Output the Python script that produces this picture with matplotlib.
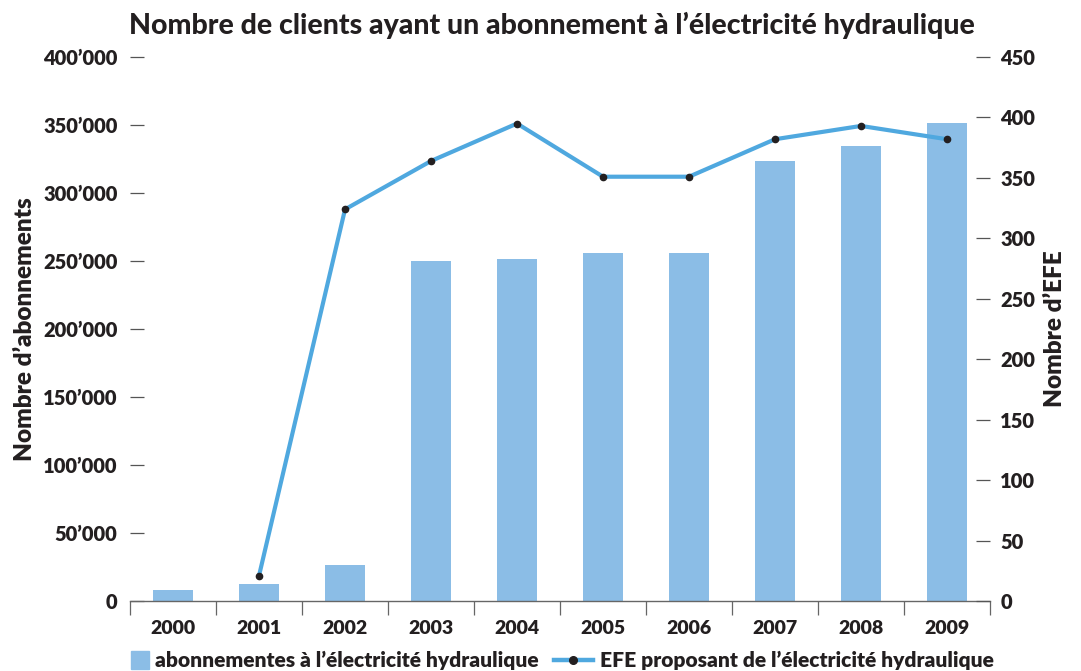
import numpy as np
import matplotlib
matplotlib.use('Agg')
import matplotlib.pyplot as plt
from matplotlib.ticker import FuncFormatter, FixedLocator
from matplotlib.lines import Line2D
from matplotlib.patches import Patch, Rectangle
from matplotlib.legend_handler import HandlerPatch

plt.rcParams['font.family'] = ['Lato', 'DejaVu Sans']
W = 'heavy'

years = ['2000', '2001', '2002', '2003', '2004', '2005', '2006', '2007', '2008', '2009']
abonnements = [8000, 12500, 26500, 250000, 251500, 256000, 256000, 323500, 334500, 351500]
efe_years = ['2001', '2002', '2003', '2004', '2005', '2006', '2007', '2008', '2009']
efe = [21, 324, 364, 395, 351, 351, 382, 393, 382]

bar_color = '#8BBDE6'
line_color = '#4FA8DF'
txt = '#231F20'


def square_patch(legend, orig_handle, xdescent, ydescent, width, height, fontsize):
    # carré collé au texte, comme dans l'original
    h = height * 1.25
    return Rectangle((-xdescent + width - h, -ydescent - (h - height) / 2), h, h)


fig = plt.figure(figsize=(10.81, 6.71), dpi=100)
ax = fig.add_axes([0.1203, 0.1043, 0.7955, 0.8107])

x = np.arange(len(years))
ax.bar(x, abonnements, width=0.47, color=bar_color, zorder=2)
ax.set_xlim(-0.5, len(years) - 0.5)
ax.set_ylim(0, 400000)
ax.set_yticks(np.arange(0, 400001, 50000))
ax.yaxis.set_major_formatter(FuncFormatter(
    lambda v, p: '0' if v == 0 else '{:,.0f}'.format(v).replace(',', '\u2019')))
ax.set_xticks(x)
ax.set_xticklabels(years)
ax.xaxis.set_minor_locator(FixedLocator(np.arange(-0.5, len(years), 1.0)))

for s in ['top', 'left', 'right']:
    ax.spines[s].set_visible(False)
ax.spines['bottom'].set_color('#666666')
ax.spines['bottom'].set_linewidth(1.0)

ax.tick_params(axis='y', direction='in', length=10, width=0.9, color='#555555',
               pad=9, labelsize=14.5, labelcolor=txt)
ax.tick_params(axis='x', which='major', length=0, pad=14, labelsize=14, labelcolor=txt)
ax.tick_params(axis='x', which='minor', direction='out', length=10, width=0.9, color='#666666')
ax.set_ylabel('Nombre d\u2019abonnements', fontsize=17.5, color=txt, labelpad=5, fontweight=W)

ax2 = ax.twinx()
efe_x = [years.index(y) for y in efe_years]
ax2.plot(efe_x, efe, color=line_color, lw=3, zorder=3)
ax2.plot(efe_x, efe, 'o', color=txt, ms=4.5, zorder=4)
ax2.set_ylim(0, 450)
ax2.set_yticks(np.arange(0, 451, 50))
for s in ['top', 'left', 'right', 'bottom']:
    ax2.spines[s].set_visible(False)
ax2.tick_params(axis='y', direction='in', length=10, width=0.9, color='#555555',
                pad=7.5, labelsize=14.5, labelcolor=txt)
ax2.set_ylabel('Nombre d\u2019EFE', fontsize=17.5, color=txt, rotation=90, labelpad=6, fontweight=W)

for lab in ax.get_xticklabels() + ax.get_yticklabels() + ax2.get_yticklabels():
    lab.set_fontweight(W)

fig.suptitle('Nombre de clients ayant un abonnement \u00e0 l\u2019\u00e9lectricit\u00e9 hydraulique',
             x=0.511, y=0.982, fontsize=20.5, fontweight='black', color=txt)

bar_handle = Patch(color=bar_color)
handles = [bar_handle,
           Line2D([0], [0], color=line_color, lw=3.2, marker='o', markersize=5.5,
                  markerfacecolor=txt, markeredgecolor=txt)]
labels = ['abonnementes \u00e0 l\u2019\u00e9lectricit\u00e9 hydraulique',
          'EFE proposant de l\u2019\u00e9lectricit\u00e9 hydraulique']
fig.legend(handles, labels, loc='lower center', bbox_to_anchor=(0.510, -0.027), ncol=2,
           frameon=False, handlelength=1.9, handletextpad=0.3,
           columnspacing=0.7, labelcolor=txt, prop={'size': 15.1, 'weight': W},
           handler_map={bar_handle: HandlerPatch(patch_func=square_patch)})

fig.savefig('out.png', dpi=100)
